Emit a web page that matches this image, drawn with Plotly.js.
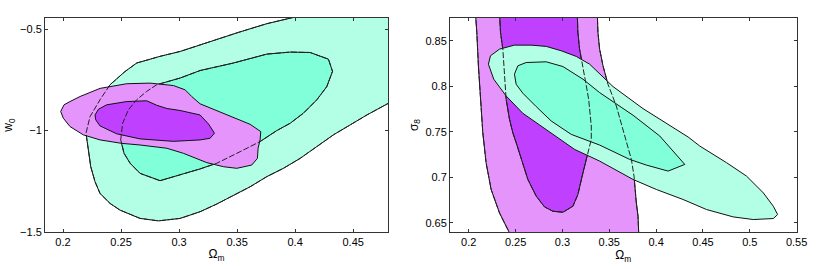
<!DOCTYPE html>
<html><head><meta charset="utf-8">
<script src="https://cdn.plot.ly/plotly-3.0.1.min.js"></script>
<style>html,body{margin:0;padding:0;background:#fff}#chart{width:817px;height:269px}</style>
</head><body><div id="chart"></div>
<script>
// ---- Left panel (Omega_m vs w0) ----
const L_cyanOuterX = [0.40,0.3756,0.3511,0.3181,0.3009,0.2836,0.2635,0.2534,0.2405,0.2319,0.2233,0.2198,0.2218,0.2239,0.2276,0.2319,0.2405,0.2491,0.2664,0.2822,0.3009,0.3181,0.3325,0.3468,0.3612,0.3756,0.3899,0.4043,0.4187,0.4330,0.4474,0.4618,0.4805,0.50,0.50];
const L_cyanOuterY = [-0.44,-0.473,-0.516,-0.577,-0.610,-0.634,-0.667,-0.709,-0.774,-0.848,-0.931,-1.013,-1.096,-1.178,-1.252,-1.310,-1.359,-1.392,-1.433,-1.445,-1.433,-1.400,-1.362,-1.318,-1.277,-1.227,-1.186,-1.137,-1.079,-1.021,-0.972,-0.923,-0.865,-0.83,-0.44];
const L_cyanInnerX = [0.2497,0.2514,0.2563,0.2635,0.2721,0.2807,0.3009,0.3181,0.3468,0.3756,0.3957,0.4129,0.4287,0.4322,0.4273,0.4187,0.4072,0.3957,0.3842,0.3698,0.3526,0.3325,0.3181,0.3009,0.2836,0.2664,0.2578,0.2526,0.2506];
const L_cyanInnerY = [-1.046,-0.964,-0.898,-0.848,-0.807,-0.774,-0.741,-0.704,-0.667,-0.623,-0.613,-0.615,-0.648,-0.708,-0.783,-0.848,-0.914,-0.964,-1.000,-1.054,-1.104,-1.161,-1.189,-1.219,-1.247,-1.211,-1.161,-1.112,-1.071];
const L_pinkOuterX = [0.1980,0.2009,0.2060,0.2147,0.2319,0.2549,0.2750,0.2951,0.3052,0.3109,0.3181,0.3325,0.3468,0.3612,0.3704,0.3698,0.3681,0.3675,0.3626,0.3497,0.3382,0.3239,0.3037,0.2894,0.2664,0.2506,0.2319,0.2175,0.2060,0.2003];
const L_pinkOuterY = [-0.906,-0.873,-0.857,-0.832,-0.792,-0.769,-0.766,-0.778,-0.799,-0.832,-0.868,-0.903,-0.936,-0.969,-1.005,-1.046,-1.087,-1.137,-1.170,-1.186,-1.178,-1.158,-1.112,-1.087,-1.071,-1.063,-1.046,-1.021,-0.980,-0.939];
const L_pinkInnerX = [0.2276,0.2305,0.2376,0.2549,0.2721,0.2807,0.2894,0.3009,0.3181,0.3253,0.3305,0.3267,0.3181,0.2951,0.2664,0.2463,0.2319,0.2282];
const L_pinkInnerY = [-0.923,-0.895,-0.873,-0.857,-0.853,-0.875,-0.891,-0.901,-0.923,-0.967,-1.013,-1.038,-1.046,-1.053,-1.041,-1.016,-0.977,-0.947];

// ---- Right panel (Omega_m vs sigma_8) ----
const R_pinkOuterX = [0.2071,0.2086,0.2103,0.2125,0.2150,0.2185,0.2239,0.2328,0.2435,0.3814,0.3807,0.3789,0.3764,0.3736,0.3664,0.3575,0.3486,0.3433,0.3397,0.3379,0.3372];
const R_pinkOuterY = [0.8812,0.8592,0.8225,0.7858,0.7491,0.7161,0.6867,0.6610,0.6390,0.6390,0.6573,0.6720,0.7014,0.7197,0.7454,0.7784,0.8023,0.8225,0.8408,0.8592,0.8812];
const R_pinkInnerX = [0.2328,0.2339,0.2364,0.2381,0.2399,0.2435,0.2470,0.2506,0.2560,0.2631,0.2720,0.2809,0.2898,0.3005,0.3112,0.3165,0.3219,0.3272,0.3308,0.3308,0.3280,0.3255,0.3212,0.3183,0.3165,0.3158];
const R_pinkInnerY = [0.8812,0.8592,0.8408,0.8115,0.7858,0.7638,0.7491,0.7381,0.7197,0.6977,0.6794,0.6676,0.6628,0.6617,0.6683,0.6812,0.7050,0.7271,0.7417,0.7564,0.7858,0.8005,0.8225,0.8408,0.8592,0.8812];
const R_cyanOuterX = [0.2210,0.2232,0.2328,0.2488,0.2666,0.2827,0.2987,0.3148,0.3290,0.3415,0.3540,0.3860,0.4110,0.4342,0.4466,0.4752,0.4965,0.5144,0.5251,0.5297,0.5251,0.5037,0.4823,0.4538,0.4288,0.4003,0.3754,0.3397,0.3130,0.2863,0.2577,0.2399,0.2267];
const R_cyanOuterY = [0.8243,0.8335,0.8408,0.8452,0.8452,0.8438,0.8390,0.8328,0.8243,0.8115,0.7997,0.7755,0.7590,0.7443,0.7344,0.7161,0.7014,0.6830,0.6683,0.6592,0.6548,0.6537,0.6566,0.6647,0.6757,0.6867,0.6977,0.7179,0.7307,0.7502,0.7704,0.7894,0.8078];
const R_cyanInnerX = [0.2488,0.2524,0.2613,0.2827,0.3005,0.3219,0.3397,0.3754,0.4039,0.4163,0.4306,0.4128,0.3896,0.3718,0.3397,0.3094,0.2880,0.2720,0.2577,0.2506];
const R_cyanInnerY = [0.8133,0.8225,0.8261,0.8269,0.8217,0.8078,0.7931,0.7682,0.7454,0.7307,0.7142,0.7069,0.7135,0.7197,0.7355,0.7472,0.7619,0.7777,0.7924,0.8023];

const LIGHT_CYAN = 'rgb(179,255,230)', CYAN = 'rgb(128,255,217)';
const LIGHT_PINK = 'rgb(229,148,252)', PINK = 'rgb(191,64,255)';

function closeArr(a){ return a.concat([a[0]]); }
function fillTrace(x,y,color,ax){
  return {x:closeArr(x), y:closeArr(y), type:'scatter', mode:'lines', fill:'toself', fillcolor:color,
    line:{color:'#111', width:1}, xaxis:'x'+ax, yaxis:'y'+ax, hoverinfo:'skip', showlegend:false};
}
function dashTrace(x,y,ax){
  return {x:closeArr(x), y:closeArr(y), type:'scatter', mode:'lines',
    line:{color:'#222', width:1, dash:'6px,2px'}, xaxis:'x'+ax, yaxis:'y'+ax, hoverinfo:'skip', showlegend:false};
}

const traces = [
  fillTrace(L_cyanOuterX, L_cyanOuterY, LIGHT_CYAN, ''),
  fillTrace(L_cyanInnerX, L_cyanInnerY, CYAN, ''),
  fillTrace(L_pinkOuterX, L_pinkOuterY, LIGHT_PINK, ''),
  fillTrace(L_pinkInnerX, L_pinkInnerY, PINK, ''),
  dashTrace(L_cyanOuterX, L_cyanOuterY, ''),
  dashTrace(L_cyanInnerX, L_cyanInnerY, ''),
  fillTrace(R_pinkOuterX, R_pinkOuterY, LIGHT_PINK, '2'),
  fillTrace(R_pinkInnerX, R_pinkInnerY, PINK, '2'),
  fillTrace(R_cyanOuterX, R_cyanOuterY, LIGHT_CYAN, '2'),
  fillTrace(R_cyanInnerX, R_cyanInnerY, CYAN, '2'),
  dashTrace(R_pinkOuterX, R_pinkOuterY, '2'),
  dashTrace(R_pinkInnerX, R_pinkInnerY, '2'),
];

const tickFont = {family:'Liberation Sans, Arial, sans-serif', size:11, color:'#000'};
const titleFont = {family:'Liberation Sans, Arial, sans-serif', size:12, color:'#000'};
function axis(extra){
  return Object.assign({showgrid:false, zeroline:false, showline:true, linecolor:'#333', linewidth:1,
    mirror:'ticks', ticks:'inside', ticklen:3, tickcolor:'#333', tickfont:tickFont, fixedrange:true}, extra);
}

const layout = {
  width:817, height:269, margin:{l:0,r:0,t:0,b:0}, paper_bgcolor:'#fff', plot_bgcolor:'#fff',
  showlegend:false,
  xaxis: axis({domain:[0.0551,0.4749], range:[0.1845,0.48], dtick:0.05, tick0:0,
    title:{text:'Ω<sub>m</sub>', font:titleFont, standoff:2}}),
  yaxis: axis({domain:[0.1375,0.9331], range:[-1.5,-0.445], dtick:0.5, tick0:0,
    title:{text:'w<sub>0</sub>', font:titleFont, standoff:4}}),
  xaxis2: axis({domain:[0.5508,0.9751], range:[0.18,0.55], dtick:0.05, tick0:0, anchor:'y2',
    title:{text:'Ω<sub>m</sub>', font:titleFont, standoff:2}}),
  yaxis2: axis({domain:[0.1375,0.9331], range:[0.64,0.875], dtick:0.05, tick0:0, anchor:'x2',
    title:{text:'σ<sub>8</sub>', font:titleFont, standoff:4}}),
};

Plotly.newPlot('chart', traces, layout, {displayModeBar:false, staticPlot:true});
</script></body></html>
